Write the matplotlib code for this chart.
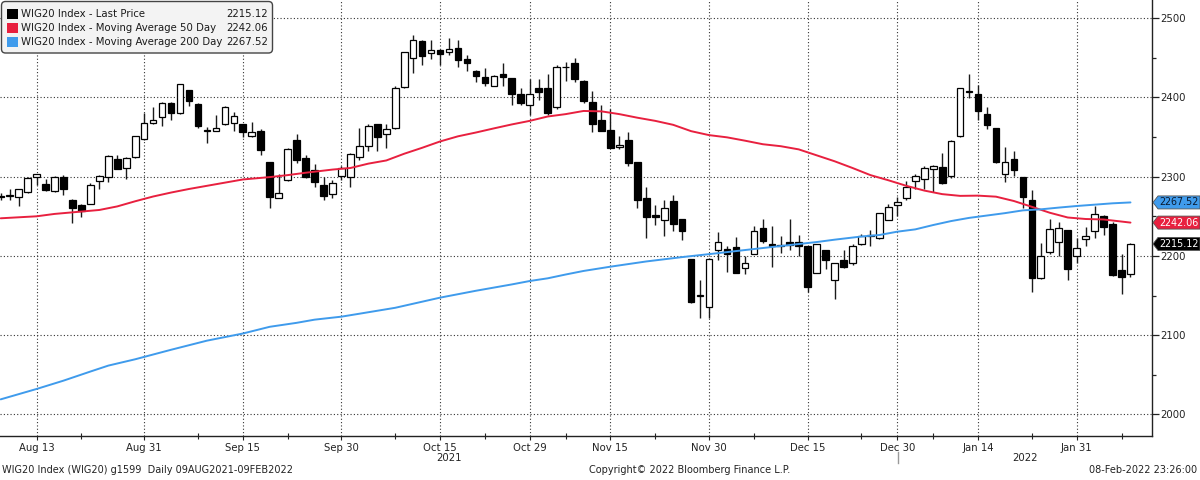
import matplotlib
matplotlib.use("Agg")
import matplotlib.pyplot as plt
import matplotlib.transforms as mtransforms
from matplotlib.patches import Rectangle, Polygon, FancyBboxPatch
import pandas as pd

# ---------------- data ----------------
holidays = ["2021-11-01", "2021-11-11", "2021-12-24", "2021-12-31", "2022-01-06"]
dates = [d for d in pd.bdate_range("2021-08-09", "2022-02-08")
         if d.strftime("%Y-%m-%d") not in holidays]

opens = [2276, 2276, 2274, 2281, 2299, 2291, 2282, 2300, 2271, 2264,
         2265, 2294, 2299, 2322, 2311, 2325, 2348, 2368, 2376, 2393,
         2380, 2409, 2392, 2358, 2358, 2366, 2368, 2366, 2352, 2358,
         2318, 2273, 2296, 2346, 2324, 2308, 2290, 2278, 2301, 2299,
         2325, 2339, 2366, 2354, 2361, 2413, 2450, 2471, 2456, 2460,
         2458, 2462, 2448, 2434, 2426, 2415, 2430, 2424, 2405, 2391,
         2412, 2412, 2388, 2438.5, 2444, 2421, 2394, 2372, 2359, 2337,
         2346, 2318, 2273, 2252, 2245, 2269, 2246, 2196, 2150, 2135,
         2207, 2209, 2211, 2185, 2202, 2235, 2215, 2214, 2217, 2217,
         2213, 2179, 2208, 2170, 2195, 2191, 2215, 2225, 2222, 2245,
         2264, 2273, 2294, 2297, 2310, 2312, 2301, 2352, 2407, 2404,
         2379, 2362, 2304, 2322, 2299, 2271, 2172, 2205, 2218, 2233,
         2200, 2221, 2231, 2250, 2240, 2182, 2177]
highs = [2279, 2285, 2285, 2300, 2303, 2297, 2301, 2302, 2272, 2266,
         2292, 2302, 2327, 2327, 2325, 2351, 2381, 2388, 2394, 2394,
         2417, 2410, 2393, 2363, 2378, 2389, 2382, 2367, 2369, 2360,
         2319, 2303, 2336, 2354, 2327, 2316, 2300, 2296, 2313, 2330,
         2362, 2367, 2367, 2367, 2414, 2458, 2479, 2473, 2473, 2461,
         2475, 2472, 2454, 2435, 2437, 2428, 2443, 2425, 2412, 2423,
         2423, 2430, 2441, 2445, 2450, 2422, 2408, 2391, 2385, 2351,
         2356, 2318, 2287, 2264, 2270, 2277, 2247, 2196, 2170, 2197,
         2230, 2213, 2224, 2200, 2238, 2246, 2238, 2225, 2246, 2227,
         2213, 2215, 2208, 2191, 2208, 2215, 2228, 2233, 2254, 2266,
         2275, 2294, 2303, 2313, 2315, 2330, 2346, 2412, 2430, 2416,
         2388, 2362, 2338, 2333, 2299, 2283, 2216, 2247, 2243, 2233,
         2222, 2237, 2263, 2252, 2243, 2202, 2216]
lows = [2270, 2271, 2263, 2279, 2290, 2282, 2281, 2277, 2242, 2249,
        2265, 2284, 2293, 2310, 2297, 2324, 2346, 2367, 2364, 2372,
        2379, 2389, 2362, 2343, 2358, 2365, 2358, 2350, 2350, 2327,
        2261, 2273, 2295, 2317, 2298, 2287, 2271, 2273, 2296, 2287,
        2321, 2333, 2332, 2336, 2360, 2412, 2431, 2441, 2448, 2441,
        2454, 2439, 2434, 2420, 2414, 2415, 2415, 2391, 2391, 2378,
        2397, 2378, 2386, 2421, 2419, 2393, 2357, 2358, 2336, 2335,
        2313, 2260, 2222, 2239, 2225, 2231, 2220, 2140, 2121, 2121,
        2195, 2180, 2179, 2177, 2202, 2216, 2186, 2204, 2207, 2200,
        2155, 2179, 2184, 2146, 2185, 2189, 2214, 2212, 2221, 2245,
        2250, 2271, 2285, 2285, 2281, 2291, 2298, 2350, 2399, 2372,
        2360, 2317, 2293, 2301, 2261, 2155, 2171, 2203, 2200, 2170,
        2191, 2212, 2223, 2226, 2175, 2152, 2173]
closes = [2274, 2277, 2284, 2298, 2303, 2283, 2300, 2285, 2261, 2257,
          2289, 2301, 2326, 2310, 2324, 2351, 2368, 2371, 2393, 2381,
          2417, 2395, 2364, 2358.5, 2362, 2388, 2377, 2356, 2357, 2334,
          2274, 2279, 2335, 2321, 2300, 2293, 2276, 2292, 2311, 2329,
          2339, 2364, 2350, 2360, 2412, 2457, 2472, 2452, 2460, 2455,
          2461, 2447, 2443, 2427, 2418, 2427, 2426, 2405, 2393, 2405,
          2407, 2380, 2439, 2439, 2423, 2395, 2367, 2358, 2336, 2340,
          2317, 2271, 2249, 2249, 2261, 2240, 2231, 2142, 2150.5, 2196,
          2218, 2202, 2179, 2191, 2232, 2219, 2213, 2213, 2214, 2212,
          2161, 2215, 2195, 2191, 2186, 2213, 2225, 2226, 2254, 2262,
          2268, 2287, 2301, 2311, 2313, 2292, 2345, 2412, 2408, 2383,
          2365, 2318, 2318, 2309, 2275, 2172, 2200, 2234, 2235, 2184,
          2210, 2225, 2253, 2236, 2176, 2173, 2215.12]

# moving averages read at selected trading days (index into dates)
ma50_days = [0, 4, 6, 8, 11, 13, 15, 17, 19, 21, 23, 25, 27, 30, 32, 34, 37, 39,
             41, 43, 45, 47, 49, 51, 53, 55, 57, 59, 61, 63, 65, 67, 69, 71, 73,
             75, 77, 79, 81, 83, 85, 87, 89, 91, 93, 95, 97, 99, 101, 103, 105,
             107, 109, 111, 113, 115, 117, 119, 121, 123, 126]
ma50_vals = [2247.5, 2250, 2253, 2255, 2258, 2262.5, 2269, 2275, 2280, 2284.5,
             2288.5, 2292.5, 2296.5, 2299.5, 2302, 2305, 2309, 2311, 2316.5,
             2320.5, 2329, 2336.5, 2344.5, 2351, 2355.8, 2361, 2366, 2370.5,
             2376, 2379, 2383, 2382.5, 2379, 2374.5, 2370.5, 2365.5, 2357.5,
             2352.5, 2349.7, 2345.5, 2341, 2338.5, 2334.5, 2327, 2319.5, 2311,
             2302, 2295.5, 2288.5, 2282.5, 2278, 2275.8, 2276.1, 2274.8, 2269.3,
             2262, 2254.5, 2248.5, 2246.6, 2246, 2242.06]
ma200_days = [0, 4, 7, 10, 12, 15, 19, 23, 27, 30, 33, 35, 38, 40, 44, 49, 53,
              57, 59, 61, 63, 65, 68, 72, 76, 80, 83, 87, 91, 93, 96, 98, 100,
              102, 104, 106, 108, 110, 112, 114, 116, 118, 120, 122, 124, 126]
ma200_vals = [2018.9, 2032, 2042.5, 2054, 2061.5, 2069.5, 2081.5, 2093, 2102,
              2110.5, 2115.5, 2119.5, 2123.3, 2127, 2134.5, 2147.3, 2156, 2164,
              2168.3, 2171.7, 2176.5, 2181, 2186.4, 2193, 2198.5, 2203.5, 2207.4,
              2212.5, 2217.5, 2220.5, 2224.5, 2226.4, 2230.6, 2233.5, 2239, 2244,
              2248, 2251, 2254, 2257.5, 2258.8, 2261, 2263, 2264.7, 2266.4, 2267.52]

tick_dates = ["2021-08-13", "2021-08-31", "2021-09-15", "2021-09-30", "2021-10-15",
              "2021-10-29", "2021-11-15", "2021-11-30", "2021-12-15", "2021-12-30",
              "2022-01-14", "2022-01-31"]
tick_labels = ["Aug 13", "Aug 31", "Sep 15", "Sep 30", "Oct 15", "Oct 29",
               "Nov 15", "Nov 30", "Dec 15", "Dec 30", "Jan 14", "Jan 31"]
minor_dates = ["2021-08-20", "2021-09-08", "2021-09-22", "2021-10-08", "2021-10-22",
               "2021-11-05", "2021-11-22", "2021-12-07", "2021-12-23", "2022-01-07",
               "2022-01-24", "2022-02-07"]

series_names = ["WIG20 Index - Last Price", "WIG20 Index - Moving Average 50 Day",
                "WIG20 Index - Moving Average 200 Day"]
last_values = [2215.12, 2242.06, 2267.52]

# ---------------- style ----------------
RED = "#e8203f"
BLUE = "#3f9bec"
W, H = 1200, 480
FS = 7.3
plt.rcParams["font.family"] = ["DejaVu Sans"]

fig = plt.figure(figsize=(W / 100, H / 100), dpi=100)
ax_bottom_px = 435.7
ax_right_px = 1152
ax = fig.add_axes([0, 1 - ax_bottom_px / H, ax_right_px / W, ax_bottom_px / H])

date_str = [d.strftime("%Y-%m-%d") for d in dates]
idx = {s: i for i, s in enumerate(date_str)}
n = len(dates)

# candles
for i in range(n):
    o, h, l, c = opens[i], highs[i], lows[i], closes[i]
    ax.vlines(i, l, h, color="#1a1a1a", lw=1.0, zorder=3)
    up = c >= o
    ax.add_patch(Rectangle((i - 0.37, min(o, c)), 0.74, max(abs(c - o), 0.5),
                           facecolor="white" if up else "black",
                           edgecolor="black", lw=0.9, zorder=4))

ax.plot(ma50_days, ma50_vals, color=RED, lw=1.4, zorder=5, solid_capstyle="round")
ax.plot(ma200_days, ma200_vals, color=BLUE, lw=1.4, zorder=5, solid_capstyle="round")

ax.set_xlim(-0.08, 128.4)
ax.set_ylim(1973, 2523.1)

# axes styling
for s in ["left", "top"]:
    ax.spines[s].set_visible(False)
for s in ["right", "bottom"]:
    ax.spines[s].set_color("#222222")
    ax.spines[s].set_linewidth(1.0)

ax.yaxis.tick_right()
ax.set_yticks([2000, 2100, 2200, 2300, 2400, 2500])
ax.set_yticks([2050, 2150, 2250, 2350, 2450], minor=True)
ax.tick_params(axis="y", which="major", length=5, width=0.9, pad=1,
               labelsize=FS, colors="#222222")
ax.tick_params(axis="y", which="minor", length=3, width=0.9, colors="#222222")

ax.set_xticks([idx[d] for d in tick_dates])
ax.set_xticklabels(tick_labels)
ax.set_xticks([idx[d] for d in minor_dates], minor=True)
ax.tick_params(axis="x", which="major", length=3, width=0.8, pad=2,
               labelsize=FS, colors="#222222", direction="out")
ax.tick_params(axis="x", which="minor", length=4, width=0.8, colors="#222222",
               direction="inout")

ax.grid(True, which="major", color="#333333", lw=0.8, linestyle=(0, (1, 2)))
ax.set_axisbelow(True)

# year labels and separator
blend = mtransforms.blended_transform_factory(ax.transData, ax.transAxes)
sep = idx["2021-12-30"] + 0.1
ax.text(sep / 2, -0.051, "2021", transform=blend, ha="center", va="center",
        fontsize=FS, color="#222222")
ax.text((sep + 128.4) / 2, -0.051, "2022", transform=blend, ha="center",
        va="center", fontsize=FS, color="#222222")
ax.plot([sep, sep], [-0.0375, -0.0627], transform=blend, color="#999999",
        lw=1.0, clip_on=False)

# value tags on right axis
fig.canvas.draw()
ident = mtransforms.IdentityTransform()
tag_colors = ["black", RED, BLUE]
tag_text = ["white", "white", "#0a1a30"]
x0 = ax.transAxes.transform((1, 0))[0]
for v, fc, tc in zip(last_values, tag_colors, tag_text):
    yd = ax.transData.transform((0, v))[1]
    hh = 6.5
    poly = Polygon([(x0 + 1, yd), (x0 + 6, yd + hh), (W, yd + hh), (W, yd - hh),
                    (x0 + 6, yd - hh)], closed=True, facecolor=fc,
                   edgecolor="#555555", lw=0.6, transform=ident)
    fig.add_artist(poly)
    fig.text((W - 1.5) / W, yd / H, f"{v:.2f}", color=tc, fontsize=6.9,
             ha="right", va="center")

# legend box
box = FancyBboxPatch((1.5, H - 53), 271, 51.5,
                     boxstyle="round,pad=0,rounding_size=4",
                     facecolor="#f3f3f3", edgecolor="#444444", lw=1.0,
                     transform=ident, zorder=10)
fig.add_artist(box)
row_y = [14.3, 28.3, 42.3]
for name, val, col, ry in zip(series_names, last_values, ["black", RED, BLUE], row_y):
    sq = Rectangle((7, H - ry - 5), 10.5, 10.5, facecolor=col, edgecolor="none",
                   transform=ident, zorder=11)
    fig.add_artist(sq)
    fig.text(21 / W, 1 - ry / H, name, fontsize=FS, color="#1a1a1a",
             ha="left", va="center", zorder=12)
    fig.text(268 / W, 1 - ry / H, f"{val:.2f}", fontsize=FS, color="#1a1a1a",
             ha="right", va="center", zorder=12)

# footer
fig.text(2 / W, 1 - 470 / H, "WIG20 Index (WIG20) g1599  Daily 09AUG2021-09FEB2022",
         fontsize=7, color="#222222", ha="left", va="center")
fig.text(690 / W, 1 - 470 / H, "Copyright\u00a9 2022 Bloomberg Finance L.P.",
         fontsize=7, color="#222222", ha="center", va="center")
fig.text(1197 / W, 1 - 470 / H, "08-Feb-2022 23:26:00",
         fontsize=7, color="#222222", ha="right", va="center")

fig.savefig("out.png", dpi=100)
